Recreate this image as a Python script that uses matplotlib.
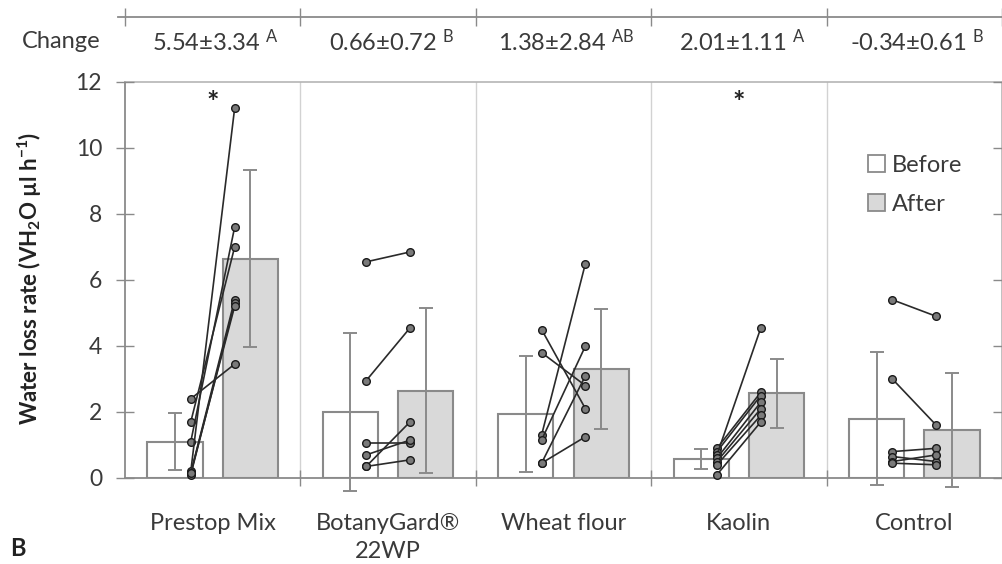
import matplotlib
matplotlib.use("Agg")
import matplotlib.pyplot as plt
from matplotlib.patches import Patch
import numpy as np

# ---- data -------------------------------------------------------------
categories = ["Prestop Mix", "BotanyGard®\n22WP", "Wheat flour", "Kaolin", "Control"]

before_mean = [1.10, 2.00, 1.94, 0.58, 1.80]
before_sd = [0.87, 2.40, 1.76, 0.30, 2.02]
after_mean = [6.64, 2.65, 3.30, 2.57, 1.46]
after_sd = [2.68, 2.50, 1.82, 1.05, 1.73]

change_mean = [5.54, 0.66, 1.38, 2.01, -0.34]
change_sd = [3.34, 0.72, 2.84, 1.11, 0.61]
change_letters = ["A", "B", "AB", "A", "B"]
significant = [True, False, False, True, False]

# individual replicates (before -> after)
prestop_before = [2.40, 1.70, 1.10, 0.20, 0.15, 0.10, 0.15]
prestop_after = [3.45, 7.00, 7.60, 11.20, 5.40, 5.30, 5.20]
botany_before = [6.55, 2.95, 1.05, 0.70, 0.35, 0.35]
botany_after = [6.85, 4.55, 1.05, 1.15, 1.70, 0.55]
wheat_before = [4.50, 3.80, 1.30, 1.15, 0.45, 0.45]
wheat_after = [2.10, 2.80, 6.50, 4.00, 3.10, 1.25]
kaolin_before = [0.90, 0.80, 0.70, 0.60, 0.50, 0.40, 0.10]
kaolin_after = [2.60, 2.50, 4.55, 2.30, 2.10, 1.90, 1.70]
control_before = [5.40, 3.00, 0.80, 0.65, 0.50, 0.45]
control_after = [4.90, 1.60, 0.90, 0.50, 0.70, 0.40]

pairs_before = [prestop_before, botany_before, wheat_before, kaolin_before, control_before]
pairs_after = [prestop_after, botany_after, wheat_after, kaolin_after, control_after]

yticks = [0, 2, 4, 6, 8, 10, 12]

# ---- style ------------------------------------------------------------
plt.rcParams["font.family"] = ["Lato", "DejaVu Sans"]
plt.rcParams["mathtext.fontset"] = "custom"
plt.rcParams["mathtext.rm"] = "Lato"
plt.rcParams["mathtext.bf"] = "Lato:bold"
plt.rcParams["mathtext.default"] = "regular"

TXT = "#3a3a3a"
AXC = "#8a8a8a"
GRID = "#d2d2d2"
FS = 17

W, H = 1003, 564
fig = plt.figure(figsize=(W / 100, H / 100), dpi=100)


def fx(px):
    return px / W


def fy(py):
    return 1 - py / H


left, right, top, bottom = 125, 1002, 82, 478
ax = fig.add_axes([fx(left), fy(bottom), fx(right - left), (bottom - top) / H])

x = np.arange(len(categories))
bar_off, bar_w, pt_off = 0.215, 0.315, 0.125

ax.bar(x - bar_off, before_mean, width=bar_w, color="white", edgecolor=AXC,
       linewidth=1.5, zorder=2, label="Before")
ax.bar(x + bar_off, after_mean, width=bar_w, color="#d9d9d9", edgecolor=AXC,
       linewidth=1.5, zorder=2, label="After")
ax.errorbar(x - bar_off, before_mean, yerr=before_sd, fmt="none", ecolor=AXC,
            elinewidth=1.4, capsize=5, capthick=1.4, zorder=3, clip_on=False)
ax.errorbar(x + bar_off, after_mean, yerr=after_sd, fmt="none", ecolor=AXC,
            elinewidth=1.4, capsize=5, capthick=1.4, zorder=3, clip_on=False)

for i, (b, a) in enumerate(zip(pairs_before, pairs_after)):
    for vb, va in zip(b, a):
        ax.plot([i - pt_off, i + pt_off], [vb, va], color="#2a2a2a", lw=1.2,
                marker="o", ms=5.5, mfc="#7a7a7a", mec="#1a1a1a", mew=1.0,
                zorder=4, clip_on=False)

for i, sig in enumerate(significant):
    if sig:
        ax.text(i, 11.35, "*", ha="center", va="center", fontsize=21,
                fontweight="bold", color="#222222", zorder=5)

# group dividers
for d in np.arange(0.5, len(categories) - 0.5, 1.0):
    ax.axvline(d, color=GRID, lw=1.0, zorder=1)

ax.set_xlim(-0.5, len(categories) - 0.5)
ax.set_ylim(0, 12)
ax.set_yticks(yticks)
ax.set_yticklabels([str(t) for t in yticks], fontsize=16.5, color=TXT)
ax.tick_params(axis="y", direction="inout", length=13, width=1.0, color=AXC,
               pad=10, left=True, right=True)
ax.set_xticks(np.arange(0.5, len(categories) - 0.5, 1.0))
ax.set_xticklabels([])
ax.tick_params(axis="x", which="major", direction="inout", length=12,
               width=1.0, color=AXC)
ax.set_xticks(x, minor=True)
ax.set_xticklabels(categories, minor=True, fontsize=FS, color=TXT,
                   linespacing=1.45)
ax.tick_params(axis="x", which="minor", length=0, pad=25)

for s in ["left", "bottom"]:
    ax.spines[s].set_color(AXC)
    ax.spines[s].set_linewidth(1.3)
for s in ["top", "right"]:
    ax.spines[s].set_color("#b5b5b5")
    ax.spines[s].set_linewidth(1.2)

ax.set_axisbelow(False)

# legend
handles = [Patch(facecolor="white", edgecolor=AXC, linewidth=1.3, label="Before"),
           Patch(facecolor="#d9d9d9", edgecolor=AXC, linewidth=1.3, label="After")]
fig.legend(handles=handles, loc="upper left", bbox_to_anchor=(fx(868), fy(155)),
           frameon=False, fontsize=FS, handlelength=0.72, handleheight=0.72,
           handletextpad=0.3, labelspacing=0.75, borderpad=0, borderaxespad=0,
           labelcolor=TXT)

# header strip with the change in water loss rate
hdr = fig.add_axes([fx(left), fy(17), fx(right - left), 0.001])
hdr.set_xlim(-0.5, len(categories) - 0.5)
hdr.set_ylim(0, 1)
for s in ["left", "right", "top"]:
    hdr.spines[s].set_visible(False)
hdr.spines["bottom"].set_color(AXC)
hdr.spines["bottom"].set_linewidth(1.3)
hdr.spines["bottom"].set_bounds(-0.54, 4.5)
hdr.set_yticks([])
hdr.set_xticks(np.arange(-0.5, len(categories), 1.0))
hdr.set_xticklabels([])
hdr.tick_params(axis="x", direction="inout", length=13, width=1.0, color=AXC)
hdr.patch.set_visible(False)

y_change = fy(42)
fig.text(fx(61), y_change, "Change", ha="center", va="center", fontsize=FS,
         color=TXT)
for i, (m, s, l) in enumerate(zip(change_mean, change_sd, change_letters)):
    xc = fx(left + (i + 0.5) * (right - left) / len(categories) + 3)
    fig.text(xc, y_change, f"{m:.2f}±{s:.2f} $^{{{l}}}$", ha="center",
             va="center", fontsize=FS, color=TXT)

fig.text(fx(30), fy(278), "Water loss rate (VH$_2$O µl h$^{-1}$)", rotation=90,
         ha="center", va="center", fontsize=16, fontweight="bold", color="#222222")
fig.text(fx(10), fy(548), "B", ha="left", va="center", fontsize=17,
         fontweight="bold", color="#222222")

fig.savefig("out.png", dpi=100)
